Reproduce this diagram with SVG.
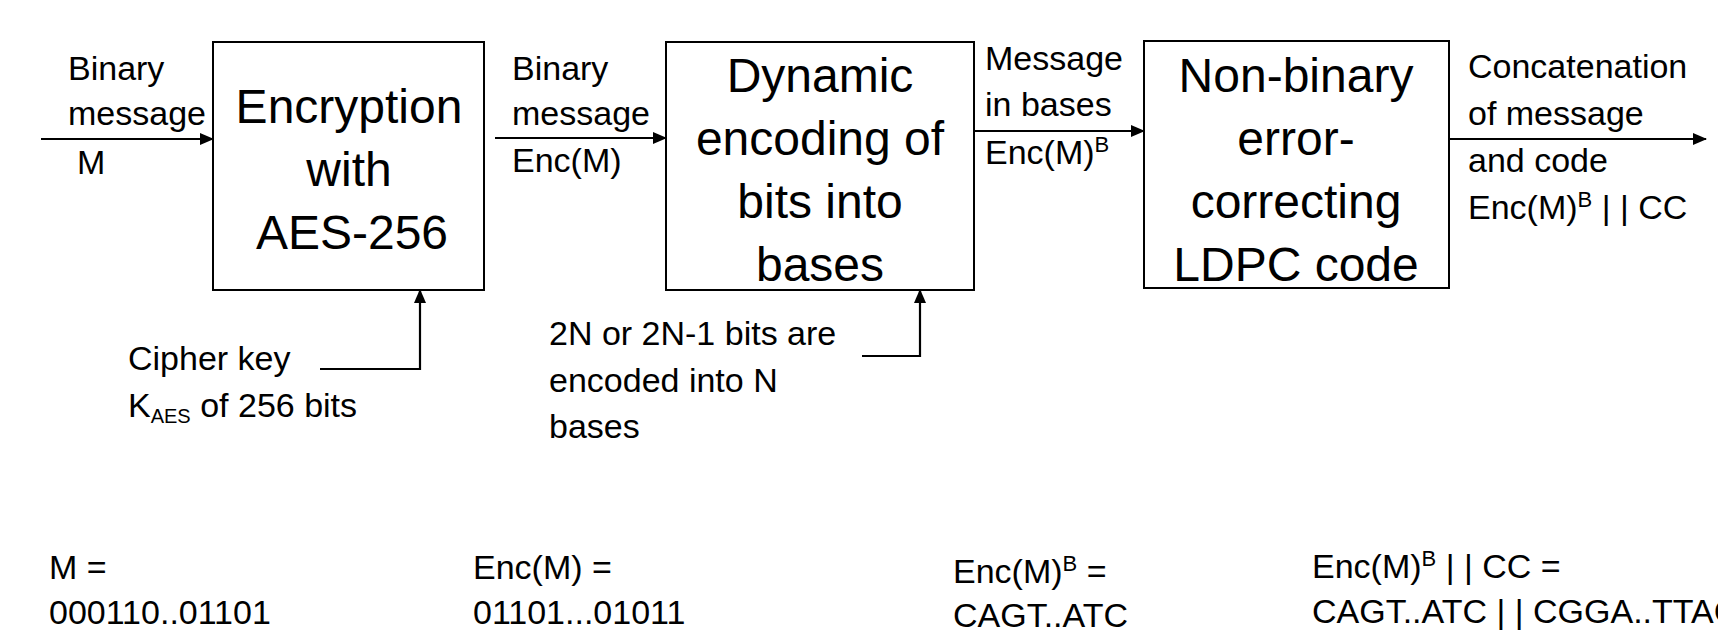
<svg xmlns="http://www.w3.org/2000/svg" width="1718" height="631" viewBox="0 0 1718 631">
<defs>
<marker id="ah" markerWidth="14" markerHeight="12" refX="13" refY="6" orient="auto" markerUnits="userSpaceOnUse">
<path d="M0,0 L14,6 L0,12 Z" fill="#000"/>
</marker>
<style>
text{font-family:"Liberation Sans",Arial,sans-serif;fill:#000}
.big{font-size:48px;text-anchor:middle}
.sm{font-size:34px}
.box{fill:#fff;stroke:#000;stroke-width:2}
.con{fill:none;stroke:#000;stroke-width:2.2;marker-end:url(#ah)}
</style>
</defs>
<rect width="1718" height="631" fill="#fff"/>
<g id="connectors">
<line class="con" x1="41" y1="139" x2="213" y2="139"/>
<line class="con" x1="495" y1="138" x2="666" y2="138"/>
<line class="con" x1="974" y1="131" x2="1144" y2="131"/>
<line class="con" x1="1449" y1="139" x2="1706" y2="139"/>
<polyline class="con" points="320,369 420,369 420,290"/>
<polyline class="con" points="862,356 920,356 920,290"/>
</g>
<g id="enc">
<rect class="box" x="213" y="42" width="271" height="248"/>
<text class="big" x="349" y="123">Encryption</text>
<text class="big" x="349" y="186">with</text>
<text class="big" x="352" y="249">AES-256</text>
</g>
<g id="dyn">
<rect class="box" x="666" y="42" width="308" height="248"/>
<text class="big" x="820" y="92">Dynamic</text>
<text class="big" x="820" y="155">encoding of</text>
<text class="big" x="820" y="218">bits into</text>
<text class="big" x="820" y="281">bases</text>
</g>
<g id="ldpc">
<rect class="box" x="1144" y="41" width="305" height="247"/>
<text class="big" x="1296" y="92">Non-binary</text>
<text class="big" x="1296" y="155">error-</text>
<text class="big" x="1296" y="218">correcting</text>
<text class="big" x="1296" y="281">LDPC code</text>
</g>
<g id="labels">
<text class="sm" x="68" y="80">Binary</text>
<text class="sm" x="68" y="125">message</text>
<text class="sm" x="77" y="174">M</text>
<text class="sm" x="512" y="80">Binary</text>
<text class="sm" x="512" y="125">message</text>
<text class="sm" x="512" y="172">Enc(M)</text>
<text class="sm" x="985" y="70">Message</text>
<text class="sm" x="985" y="116">in bases</text>
<text class="sm" x="985" y="164">Enc(M)<tspan font-size="22" dy="-12">B</tspan></text>
<text class="sm" x="1468" y="78">Concatenation</text>
<text class="sm" x="1468" y="125">of message</text>
<text class="sm" x="1468" y="172">and code</text>
<text class="sm" x="1468" y="219">Enc(M)<tspan font-size="22" dy="-12">B</tspan><tspan dy="12"> | | CC</tspan></text>
<text class="sm" x="128" y="370">Cipher key</text>
<text class="sm" x="128" y="417">K<tspan font-size="20" dy="6">AES</tspan><tspan dy="-6"> of 256 bits</tspan></text>
<text class="sm" x="549" y="345">2N or 2N-1 bits are</text>
<text class="sm" x="549" y="392">encoded into N</text>
<text class="sm" x="549" y="438">bases</text>
</g>
<g id="examples">
<text class="sm" x="49" y="579">M =</text>
<text class="sm" x="49" y="624">000110..01101</text>
<text class="sm" x="473" y="579">Enc(M) =</text>
<text class="sm" x="473" y="624">01101...01011</text>
<text class="sm" x="953" y="583">Enc(M)<tspan font-size="22" dy="-12">B</tspan><tspan dy="12"> =</tspan></text>
<text class="sm" x="953" y="627">CAGT..ATC</text>
<text class="sm" x="1312" y="578">Enc(M)<tspan font-size="22" dy="-12">B</tspan><tspan dy="12"> | | CC =</tspan></text>
<text class="sm" x="1312" y="623">CAGT..ATC | | CGGA..TTAC</text>
</g>
</svg>
